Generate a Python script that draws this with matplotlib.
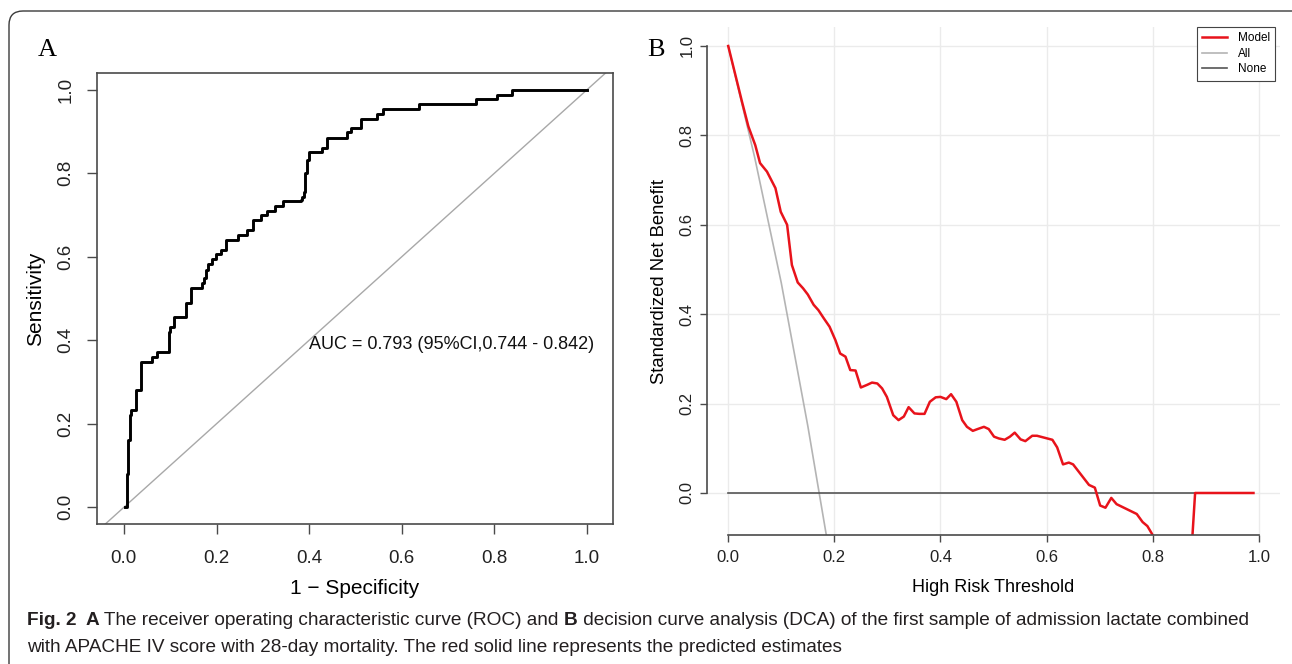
import matplotlib
matplotlib.use("Agg")
import matplotlib.pyplot as plt
from matplotlib.patches import FancyBboxPatch
from matplotlib.transforms import IdentityTransform
from matplotlib import font_manager

# ---------------- data ----------------
# panel A: ROC staircase corners (1 - specificity, sensitivity)
roc_fpr = [0.003, 0.006, 0.009, 0.013, 0.016, 0.026, 0.036, 0.060, 0.072, 0.097,
           0.100, 0.108, 0.134, 0.146, 0.168, 0.173, 0.177, 0.182, 0.191, 0.198,
           0.209, 0.220, 0.247, 0.265, 0.278, 0.297, 0.308, 0.326, 0.344, 0.382,
           0.384, 0.389, 0.391, 0.395, 0.400, 0.427, 0.438, 0.481, 0.490, 0.511,
           0.546, 0.559, 0.637, 0.760, 0.805, 0.838, 1.000]
roc_tpr = [0.000, 0.080, 0.160, 0.220, 0.233, 0.280, 0.348, 0.360, 0.372, 0.420,
           0.432, 0.456, 0.490, 0.524, 0.536, 0.548, 0.568, 0.583, 0.595, 0.606,
           0.616, 0.640, 0.652, 0.664, 0.688, 0.700, 0.710, 0.722, 0.734, 0.736,
           0.744, 0.756, 0.800, 0.832, 0.850, 0.860, 0.884, 0.898, 0.908, 0.930,
           0.942, 0.954, 0.965, 0.977, 0.988, 1.000, 1.000]
auc_text = "AUC = 0.793 (95%CI,0.744 - 0.842)"

# panel B: decision curve (threshold, standardized net benefit)
dca_t = [0.000, 0.026, 0.038, 0.051, 0.060, 0.073, 0.089, 0.099, 0.111, 0.120,
         0.131, 0.141, 0.150, 0.161, 0.170, 0.180, 0.191, 0.202, 0.211, 0.221,
         0.230, 0.240, 0.250, 0.262, 0.271, 0.281, 0.290, 0.299, 0.311, 0.321,
         0.331, 0.340, 0.351, 0.360, 0.370, 0.380, 0.391, 0.400, 0.411, 0.420,
         0.430, 0.441, 0.450, 0.461, 0.470, 0.482, 0.491, 0.501, 0.510, 0.521,
         0.531, 0.540, 0.551, 0.560, 0.573, 0.582, 0.611, 0.620, 0.631, 0.642,
         0.650, 0.680, 0.691, 0.701, 0.711, 0.722, 0.732, 0.770, 0.781, 0.790,
         0.799, 0.810, 0.830, 0.850, 0.870, 0.880, 0.990]
dca_model = [1.000, 0.875, 0.820, 0.778, 0.738, 0.719, 0.682, 0.629, 0.600, 0.510,
             0.471, 0.458, 0.444, 0.421, 0.409, 0.391, 0.372, 0.342, 0.312, 0.305,
             0.275, 0.274, 0.236, 0.242, 0.247, 0.245, 0.234, 0.215, 0.174, 0.163,
             0.171, 0.192, 0.178, 0.177, 0.177, 0.204, 0.214, 0.215, 0.210, 0.221,
             0.204, 0.163, 0.148, 0.139, 0.143, 0.148, 0.143, 0.126, 0.122, 0.119,
             0.126, 0.135, 0.120, 0.116, 0.128, 0.128, 0.119, 0.102, 0.064, 0.068,
             0.064, 0.018, 0.012, -0.028, -0.033, -0.011, -0.025, -0.047, -0.065, -0.074,
             -0.092, -0.130, -0.150, -0.170, -0.190, 0.000, 0.000]
all_t = [0.00, 0.05, 0.10, 0.15, 0.17, 0.19, 0.25]
all_nb = [1.00, 0.75, 0.47, 0.15, 0.01, -0.13, -0.60]
none_t = [0.00, 0.99]
none_nb = [0.00, 0.00]

ticks = [0.0, 0.2, 0.4, 0.6, 0.8, 1.0]
tick_labels = ["0.0", "0.2", "0.4", "0.6", "0.8", "1.0"]

W, H = 1292, 664
SANS = ["Liberation Sans", "DejaVu Sans"]
plt.rcParams["font.family"] = SANS
AXC = "#4a4a4a"

fig = plt.figure(figsize=(W / 100, H / 100), dpi=100)

# outer rounded frame
frame = FancyBboxPatch((9, -20), 1320, H - 11 + 20,
                       boxstyle="round,pad=0,rounding_size=14",
                       transform=IdentityTransform(), fill=False,
                       edgecolor="#3a3a3a", linewidth=1.0)
fig.patches.append(frame)


def style_ticks(ax, size, length, xpad, ypad):
    ax.set_xticks(ticks)
    ax.set_xticklabels(tick_labels)
    ax.set_yticks(ticks)
    ax.set_yticklabels(tick_labels)
    ax.tick_params(direction="out", length=length, width=1.0, color=AXC,
                   labelsize=size, labelcolor="#222222")
    ax.tick_params(axis="x", pad=xpad)
    ax.tick_params(axis="y", pad=ypad)
    for lab in ax.get_yticklabels():
        lab.set_rotation(90)
        lab.set_va("center")
        lab.set_ha("right")


# ---------------- panel A ----------------
axA = fig.add_axes([97 / W, 1 - 524 / H, (613 - 97) / W, (524 - 73) / H])
axA.set_xlim(-0.058, 1.056)
axA.set_ylim(-0.04, 1.04)
axA.plot([-0.1, 1.1], [-0.1, 1.1], color="#a8a8a8", linewidth=1.0)
axA.plot(roc_fpr, roc_tpr, drawstyle="steps-post", color="black", linewidth=2.1)
axA.text(0.40, 0.389, auc_text, fontsize=13, va="center", ha="left", color="#111111")
for s in axA.spines.values():
    s.set_color(AXC)
    s.set_linewidth(1.2)
style_ticks(axA, 13.5, 7.2, 11.5, 9)
axA.set_xlabel("1 \u2212 Specificity", fontsize=15, labelpad=9)
axA.set_ylabel("Sensitivity", fontsize=15, labelpad=9)

# ---------------- panel B ----------------
axB = fig.add_axes([707 / W, 1 - 535 / H, (1280 - 707) / W, (535 - 27) / H])
axB.set_xlim(-0.04, 1.04)
axB.set_ylim(-0.094, 1.0425)
axB.grid(True, color="#ebebeb", linewidth=1.0)
axB.set_axisbelow(True)
axB.plot(all_t, all_nb, color="#b4b4b4", linewidth=1.2, label="All")
axB.plot(none_t, none_nb, color="#555555", linewidth=1.2, label="None")
axB.plot(dca_t, dca_model, color="#e8131b", linewidth=1.8, label="Model")
for side in ["top", "right"]:
    axB.spines[side].set_visible(False)
for side in ["left", "bottom"]:
    axB.spines[side].set_bounds(0, 1)
    axB.spines[side].set_color(AXC)
    axB.spines[side].set_linewidth(1.2)
style_ticks(axB, 12, 5, 6, 4)
axB.set_xlabel("High Risk Threshold", fontsize=13, labelpad=10)
axB.set_ylabel("Standardized Net Benefit", fontsize=13.3, labelpad=8.5)

h, l = axB.get_legend_handles_labels()
order = [2, 0, 1]
leg = axB.legend([h[i] for i in order], [l[i] for i in order],
                 loc="upper left", bbox_to_anchor=(1197 / W, 1 - 27 / H),
                 bbox_transform=fig.transFigure, fontsize=8.5, frameon=True,
                 fancybox=False, edgecolor="#444444", framealpha=1,
                 handlelength=2.1, handletextpad=0.9, labelspacing=0.3,
                 borderpad=0.45, borderaxespad=0)
leg.get_frame().set_linewidth(0.8)

# panel letters
fig.text(47 / W, 1 - 50 / H, "A", family=["Liberation Serif", "DejaVu Serif"],
         fontsize=19, ha="center", va="center")
fig.text(656 / W, 1 - 50 / H, "B", family=["Liberation Serif", "DejaVu Serif"],
         fontsize=19, ha="center", va="center")

# ---------------- caption ----------------
cap_family = SANS
try:
    font_manager.findfont("Liberation Sans Narrow", fallback_to_default=False)
    cap_family = ["Liberation Sans Narrow"] + SANS
except Exception:
    pass

line1 = [("Fig. 2", "bold", 0), ("A", "bold", 9),
         (" The receiver operating characteristic curve (ROC) and ", "normal", 0),
         ("B", "bold", 0),
         (" decision curve analysis (DCA) of the first sample of admission lactate combined", "normal", 0)]
line2 = [("with APACHE IV score with 28-day mortality. The red solid line represents the predicted estimates",
          "normal", 0)]

fig.canvas.draw()
renderer = fig.canvas.get_renderer()
for pieces, base in [(line1, 625), (line2, 652)]:
    x = 27
    for txt, weight, gap in pieces:
        x += gap
        t = fig.text(x / W, 1 - base / H, txt, fontsize=13.65, fontweight=weight,
                     family=cap_family, color="#231f20", ha="left", va="baseline")
        x += t.get_window_extent(renderer).width

fig.savefig("out.png", dpi=100)
